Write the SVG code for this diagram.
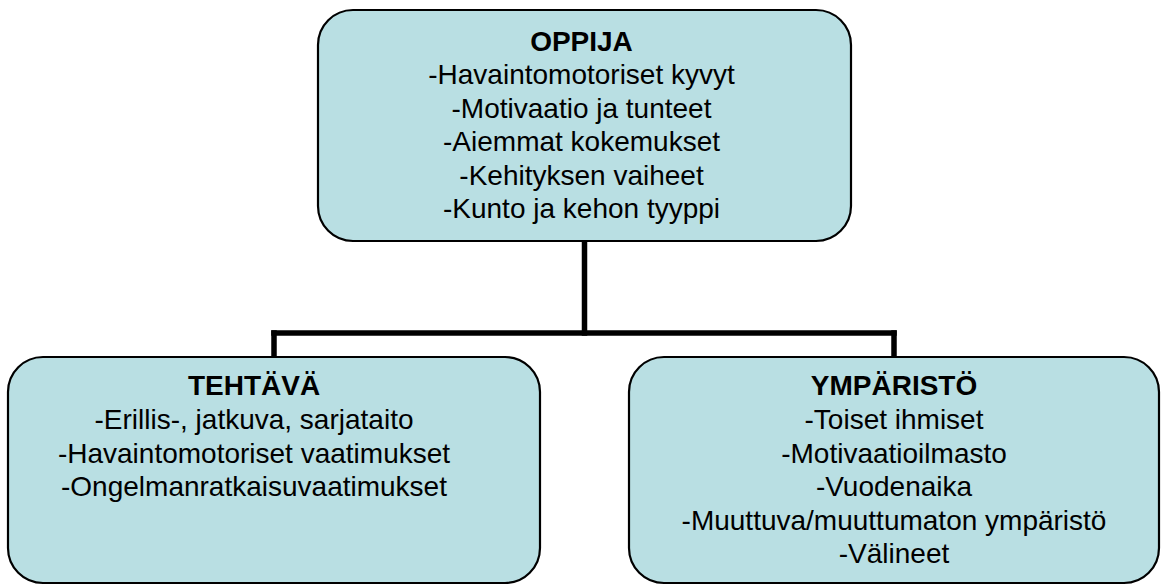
<svg xmlns="http://www.w3.org/2000/svg" width="1164" height="585" viewBox="0 0 1164 585">
<style>
.box{fill:#B9DFE3;stroke:#000;stroke-width:2.2}
.t{font-family:"Liberation Sans",Arial,sans-serif;font-size:28px;fill:#000;text-anchor:middle}
.h{font-weight:bold}
.c{stroke:#000;stroke-width:5.5;fill:none;stroke-linecap:square}
</style>
<rect width="1164" height="585" fill="#fff"/>
<g id="connectors">
<line class="c" x1="584.5" y1="242" x2="584.5" y2="333"/>
<line class="c" x1="274" y1="333" x2="894" y2="333"/>
<line class="c" x1="274" y1="333" x2="274" y2="356"/>
<line class="c" x1="894" y1="333" x2="894" y2="356"/>
</g>
<g id="oppija">
<rect class="box" x="318" y="10" width="533" height="231" rx="35" ry="35"/>
<text class="t h" x="581.5" y="51">OPPIJA</text>
<text class="t" x="581.5" y="84">-Havaintomotoriset kyvyt</text>
<text class="t" x="581.5" y="118">-Motivaatio ja tunteet</text>
<text class="t" x="581.5" y="151">-Aiemmat kokemukset</text>
<text class="t" x="581.5" y="185">-Kehityksen vaiheet</text>
<text class="t" x="581.5" y="218">-Kunto ja kehon tyyppi</text>
</g>
<g id="tehtava">
<rect class="box" x="8" y="357" width="532" height="226" rx="35" ry="35"/>
<text class="t h" x="254" y="395">TEHTÄVÄ</text>
<text class="t" x="254" y="429">-Erillis-, jatkuva, sarjataito</text>
<text class="t" x="254" y="463">-Havaintomotoriset vaatimukset</text>
<text class="t" x="254" y="496">-Ongelmanratkaisuvaatimukset</text>
</g>
<g id="ymparisto">
<rect class="box" x="629" y="357" width="530" height="226" rx="35" ry="35"/>
<text class="t h" x="894" y="395">YMPÄRISTÖ</text>
<text class="t" x="894" y="429">-Toiset ihmiset</text>
<text class="t" x="894" y="463">-Motivaatioilmasto</text>
<text class="t" x="894" y="496">-Vuodenaika</text>
<text class="t" x="894" y="530">-Muuttuva/muuttumaton ympäristö</text>
<text class="t" x="894" y="563">-Välineet</text>
</g>
</svg>
